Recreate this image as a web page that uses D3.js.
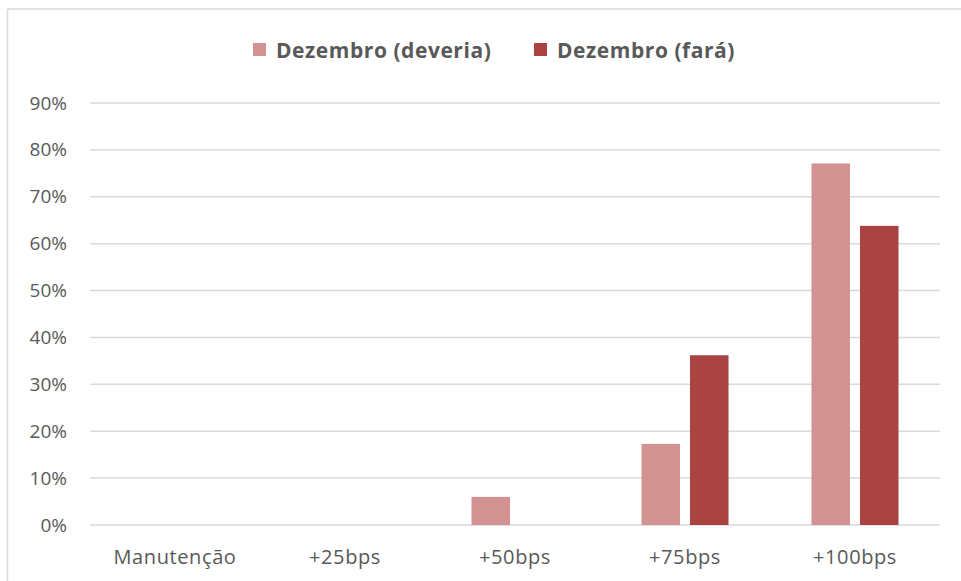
<!DOCTYPE html>
<html>
<head>
<meta charset="utf-8">
<script src="https://cdn.jsdelivr.net/npm/d3@7"></script>
<style>
  html, body { margin: 0; padding: 0; background: #fff; }
  svg { display: block; }
  text { font-family: "Open Sans", sans-serif; fill: #595959; }
</style>
</head>
<body>
<svg id="chart" width="961" height="581"></svg>
<script>
const categories = ["Manutenção", "+25bps", "+50bps", "+75bps", "+100bps"];
const seriesNames = ["Dezembro (deveria)", "Dezembro (fará)"];
const deveria = [0, 0, 0.06, 0.173, 0.771];
const fara = [0, 0, 0, 0.362, 0.638];
const yTicks = [0, 0.1, 0.2, 0.3, 0.4, 0.5, 0.6, 0.7, 0.8, 0.9];
const colors = ["#d39292", "#a94442"];

const svg = d3.select("#chart");
const W = 961, H = 581;
const plot = { left: 90, right: 940, top: 103, bottom: 525 };

// frame (top & left edges visible)
svg.append("line").attr("x1", 7.5).attr("x2", W).attr("y1", 9).attr("y2", 9)
  .attr("stroke", "#d9d9d9").attr("stroke-width", 1.5);
svg.append("line").attr("x1", 7.5).attr("x2", 7.5).attr("y1", 9).attr("y2", H)
  .attr("stroke", "#d9d9d9").attr("stroke-width", 1.5);

const y = d3.scaleLinear().domain([0, 0.9]).range([plot.bottom, plot.top]);
const x0 = d3.scaleBand().domain(categories).range([plot.left, plot.right]).padding(0);
const x1 = d3.scaleBand().domain(seriesNames).range([0, x0.bandwidth()])
  .paddingInner(0.206).paddingOuter(0.855);

// gridlines
svg.append("g").selectAll("line").data(yTicks).join("line")
  .attr("x1", plot.left).attr("x2", plot.right)
  .attr("y1", d => y(d)).attr("y2", d => y(d))
  .attr("stroke", "#d9d9d9").attr("stroke-width", 1.5);

// y axis labels
const yAxis = d3.axisLeft(y).tickValues(yTicks).tickFormat(d3.format(".0%")).tickSize(0).tickPadding(0);
const gy = svg.append("g").attr("transform", "translate(67,0)").call(yAxis);
gy.select(".domain").remove();
gy.selectAll("text").style("font-size", "19px").style("fill", "#595959")
  .style("font-family", "'Open Sans', sans-serif");

// x axis labels
const xAxis = d3.axisBottom(x0).tickSize(0).tickPadding(0);
const gx = svg.append("g").attr("transform", `translate(0,${plot.bottom + 25})`).call(xAxis);
gx.select(".domain").remove();
gx.selectAll("text").style("font-size", "20px").style("fill", "#595959")
  .style("letter-spacing", "0.6px")
  .style("font-family", "'Open Sans', sans-serif");

// bars
const data = categories.map((c, i) => ({ cat: c, vals: [deveria[i], fara[i]] }));
const groups = svg.append("g").selectAll("g").data(data).join("g")
  .attr("transform", d => `translate(${x0(d.cat)},0)`);
groups.selectAll("rect").data(d => d.vals.map((v, j) => ({ v, s: seriesNames[j], j })))
  .join("rect")
  .attr("x", d => x1(d.s))
  .attr("width", x1.bandwidth())
  .attr("y", d => y(d.v))
  .attr("height", d => y(0) - y(d.v))
  .attr("fill", d => colors[d.j])
  .attr("display", d => d.v > 0 ? null : "none");

// legend
const legendPos = [253, 534];
const lg = svg.append("g").selectAll("g").data(seriesNames).join("g")
  .attr("transform", (d, i) => `translate(${legendPos[i]},0)`);
lg.append("rect").attr("x", 0).attr("y", 43).attr("width", 13).attr("height", 13)
  .attr("fill", (d, i) => colors[i]);
lg.append("text").attr("x", 23).attr("y", 51).attr("dy", "0.35em")
  .style("font-size", "21px").style("font-weight", "bold")
  .style("letter-spacing", "0.55px").text(d => d);
</script>
</body>
</html>
